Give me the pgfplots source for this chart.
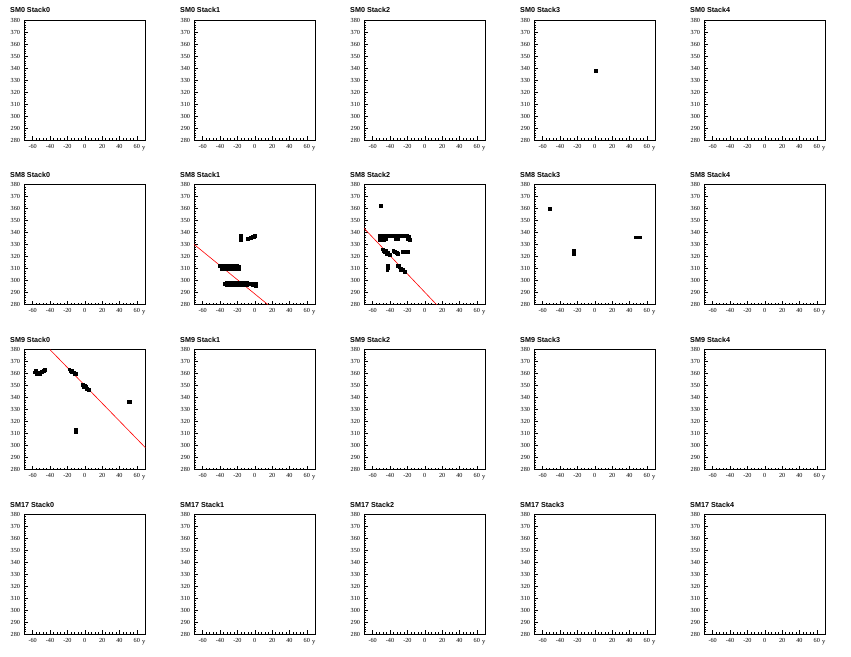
\documentclass[border=0pt]{standalone}
\usepackage{fontspec}
\setmainfont{Liberation Serif}
\setsansfont{Liberation Sans}
\usepackage{pgfplots}
\pgfplotsset{compat=1.18}
\pgfplotsset{
  panel/.style={
    scale only axis, width=121.5pt, height=120pt,
    anchor=south west,
    xmin=-70, xmax=70, ymin=280, ymax=380,
    xtick={-60,-40,...,60}, ytick={280,290,...,380},
    minor x tick num=4, minor y tick num=4,
    tick align=inside, xtick pos=bottom, ytick pos=left,
    major tick length=3.6pt, minor tick length=1.8pt,
    axis line style={line width=0.8pt},
    every tick/.style={black, line width=0.4pt},
    /pgf/number format/assume math mode=true,
    ticklabel style={font=\fontsize{6.2}{6.2}\selectfont},
    xticklabel style={yshift=-0.5pt},
    yticklabel style={xshift=-0.5pt},
    xlabel={y}, xlabel style={font=\fontsize{6.5}{6.5}\selectfont, at={(1,0)}, anchor=north east, yshift=-6pt, inner sep=0pt},
    title style={font=\sffamily\bfseries\fontsize{7.2}{7.2}\selectfont, at={(0,1)}, anchor=base west, xshift=-14pt, yshift=1pt, inner sep=0pt},
    clip=true,
  },
  pts/.style={only marks, mark=square*, mark size=1.4pt, black, mark options={draw=black, fill=black, line width=0pt}},
  fit/.style={red, line width=0.6pt, mark=none},
}
\newcommand{\panel}[4]{\begin{axis}[panel, at={(#1pt,#2pt)}, title={#3}]#4\end{axis}}
\begin{document}
\begin{tikzpicture}
\useasboundingbox (0pt,0pt) rectangle (851pt,656pt);
% row 1
\panel{24}{516}{SM0 Stack0}{}
\panel{194}{516}{SM0 Stack1}{}
\panel{364}{516}{SM0 Stack2}{}
\panel{534}{516}{SM0 Stack3}{\addplot[pts] coordinates {(1,337.5)};}
\panel{704}{516}{SM0 Stack4}{}
% row 2
\panel{24}{351.3}{SM8 Stack0}{}
\panel{194}{351.3}{SM8 Stack1}{%
\addplot[pts] coordinates {
(-16,334)(-16,335.5)(-16,337)
(-8,334.5)(-6,335.2)(-4,335.8)(-2,336.5)(0,337)(-1,336.6)
(-40,312)(-38,310)(-38,312)(-36,310)(-36,312)(-34,310)(-34,312)(-32,310)(-32,312)(-30,310)(-30,312)(-29,311)
(-26,310)(-26,312)(-24,310)(-24,312)(-22,310)(-22,312)(-20,310)(-20,312)(-18,310)(-18,311.5)
(-34,297.5)(-32,296.5)(-32,298.5)(-30.5,297.5)
(-27,296.3)(-27,298.3)(-25,296.3)(-25,298.3)(-23,296.3)(-23,298.3)(-21,296.3)(-21,298.3)(-19,296.3)(-19,298.3)
(-17,296.3)(-17,298.3)(-15,296.3)(-15,298.3)(-13,296.3)(-13,298.3)(-11,296.3)(-11,298.3)(-9,296.3)(-9,298.3)(-7,296.8)
(-4,297.5)(-2,296.5)(0,296)(1.5,295.5)(0,297.5)(1.5,297)
};
\addplot[fit] coordinates {(-70,330.3)(15.3,280)};}
\panel{364}{351.3}{SM8 Stack2}{%
\addplot[pts] coordinates {
(-50,362)
(-52,337)(-50,337)(-48,337)(-46,337)(-44,337)(-42,337)(-40,337)(-38,337)(-36,337)(-34,337)(-32,337)(-30,337)(-28,337)(-26,337)(-24,337)(-22,337)(-20,337)(-18,336.5)
(-52,335)(-50,335)(-48,335)(-46,335)(-44,335)(-52,334)(-50,334)(-47,334)(-33,335)(-31,335)(-19,334.5)(-17,334)
(-48,326)(-47,324.5)(-46,325)(-46,323.5)(-44,324.5)(-44,322.5)(-42,322)(-40,321.5)(-42,323.5)
(-36,325)(-34,324)(-32,323)(-30.5,322.5)
(-25,324)(-23,323.5)(-21,324)(-19.5,324)
(-43,308.5)(-42.5,310.5)(-42,312)
(-31,312)(-29,311)(-27,310)(-25,309)(-23,307.5)(-29,312)(-27,309)
};
\addplot[fit] coordinates {(-70,343.7)(13.7,280)};}
\panel{534}{351.3}{SM8 Stack3}{%
\addplot[pts] coordinates {(-52,359.5)(-23.5,322.5)(-23.5,324.5)(47,336)(49,336)(51,336)(52.5,336)};}
\panel{704}{351.3}{SM8 Stack4}{}
% row 3
\panel{24}{186.3}{SM9 Stack0}{%
\addplot[pts] coordinates {
(-57,361)(-55,361)(-53,361)(-51,361)(-55,359.8)(-53,359.8)(-51,360)(-49,361.5)(-47,362.5)(-46,363)(-56,362)
(-17.5,363.5)(-16,362.5)(-14,362)(-12,361)(-10,360)(-15,361.5)(-11,359.5)
(-2,350.5)(-1,349)(0,350)(1,348.5)(2,348)(3,347.5)(4,346.8)(5,346.5)(0,348.5)(2,349.2)
(-9.7,311)(-9.7,313)
(50.5,336.5)(52.5,336.5)
};
\addplot[fit] coordinates {(-40,380)(70,298.3)};}
\panel{194}{186.3}{SM9 Stack1}{}
\panel{364}{186.3}{SM9 Stack2}{}
\panel{534}{186.3}{SM9 Stack3}{}
\panel{704}{186.3}{SM9 Stack4}{}
% row 4
\panel{24}{22}{SM17 Stack0}{}
\panel{194}{22}{SM17 Stack1}{}
\panel{364}{22}{SM17 Stack2}{}
\panel{534}{22}{SM17 Stack3}{}
\panel{704}{22}{SM17 Stack4}{}
\end{tikzpicture}
\end{document}
